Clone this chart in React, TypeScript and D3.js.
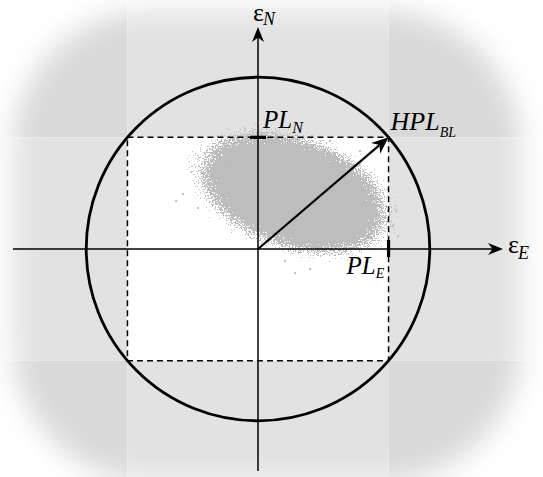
import React from "react";
import * as d3 from "d3";

// Canvas
const W = 543;
const H = 477;

// Protection levels along East and North (error units)
const plEast = 3.73;
const plNorth = 3.19;

// Axis extents (error units)
const axisExtentE = [-7.0, 7.0];
const axisExtentN = [-6.34, 6.34];

// Error cloud: centre, semi-axes and tilt (degrees, counter-clockwise)
const cloudCenter = [1.02, 1.6];
const cloudRadii = [3.35, 1.9];
const cloudTilt = -19;

// Isolated samples around the main cloud
const outlierPoints: [number, number][] = [
  [-2.34, 1.37], [-1.57, 1.89], [-2.14, 1.57], [-1.71, 1.17], [1.06, -0.69],
  [1.49, -0.57], [0.77, -0.34], [3.86, 0.66], [4.0, 0.37], [-0.51, 3.0],
  [2.06, 3.09], [2.91, 2.8], [-0.94, 2.51], [-1.9, 2.2], [3.95, 1.1],
];

const x = d3.scaleLinear().domain([-7, 7]).range([258 - 245, 258 + 245]);
const y = d3.scaleLinear().domain([-7, 7]).range([249 + 245, 249 - 245]);

const hpl = Math.hypot(plEast, plNorth);

// Notched arrowhead pointing along +x, tip at origin
function headPath(len: number, half: number) {
  const p = d3.path();
  p.moveTo(0, 0);
  p.lineTo(-len, -half);
  p.lineTo(-len * 0.7, 0);
  p.lineTo(-len, half);
  p.closePath();
  return p.toString();
}

const serif: React.CSSProperties = {
  fontFamily: '"Liberation Serif", "Times New Roman", Times, serif',
};

// Threshold table: any alpha above ~5% counts as inside the cloud region
const insideTable = ["0"].concat(Array(19).fill("1")).join(" ");

export default function App() {
  const x0 = x(0);
  const y0 = y(0);
  const rx0 = x(-plEast);
  const rx1 = x(plEast);
  const ry0 = y(plNorth);
  const ry1 = y(-plNorth);
  const rPx = x(hpl) - x0;

  const xE0 = x(axisExtentE[0]);
  const xE1 = x(axisExtentE[1]);
  const yN0 = y(axisExtentN[0]);
  const yN1 = y(axisExtentN[1]);

  const hplAngle = (Math.atan2(ry0 - y0, rx1 - x0) * 180) / Math.PI;

  const corner = "#d9d9d9";
  const side = "#e2e2e2";
  const cols = [0, rx0, rx1, W];
  const rows = [0, ry0, ry1, H];
  const tiles: { x: number; y: number; w: number; h: number; c: string }[] = [];
  for (let i = 0; i < 3; i++) {
    for (let j = 0; j < 3; j++) {
      const isCorner = i !== 1 && j !== 1;
      const isCenter = i === 1 && j === 1;
      tiles.push({
        x: cols[i],
        y: rows[j],
        w: cols[i + 1] - cols[i],
        h: rows[j + 1] - rows[j],
        c: isCenter ? "#ffffff" : isCorner ? corner : side,
      });
    }
  }

  return (
    <svg
      width={W}
      height={H}
      style={{ position: "absolute", left: 0, top: 0, background: "#fff" }}
    >
      <defs>
        <filter id="soft" x="-20%" y="-20%" width="140%" height="140%">
          <feGaussianBlur stdDeviation="14" />
        </filter>
        <mask id="fade" maskUnits="userSpaceOnUse" x="0" y="0" width={W} height={H}>
          <rect x={0} y={0} width={W} height={H} fill="#000" />
          <rect x={12} y={10} width={510} height={472} rx={140} fill="#fff" filter="url(#soft)" />
        </mask>
        <radialGradient id="cloudGrad" cx="50%" cy="50%" r="50%">
          <stop offset="0%" stopColor="#000" stopOpacity={1} />
          <stop offset="60%" stopColor="#000" stopOpacity={1} />
          <stop offset="76%" stopColor="#000" stopOpacity={0.62} />
          <stop offset="90%" stopColor="#000" stopOpacity={0.25} />
          <stop offset="100%" stopColor="#000" stopOpacity={0.06} />
        </radialGradient>
        <filter
          id="speckle"
          filterUnits="userSpaceOnUse"
          x="0"
          y="0"
          width={W}
          height={H}
          colorInterpolationFilters="sRGB"
        >
          <feTurbulence type="fractalNoise" baseFrequency="0.65" numOctaves="2" seed="11" result="noise" />
          <feColorMatrix
            in="noise"
            type="matrix"
            values="0 0 0 0 0  0 0 0 0 0  0 0 0 0 0  1 0 0 0 0"
            result="r"
          />
          <feComposite in="SourceAlpha" in2="r" operator="arithmetic" k1="0" k2="1" k3="1.2" k4="-0.6" result="sum" />
          <feComponentTransfer in="sum" result="dots">
            <feFuncA type="discrete" tableValues="0 1" />
          </feComponentTransfer>
          <feComponentTransfer in="SourceAlpha" result="inside">
            <feFuncA type="discrete" tableValues={insideTable} />
          </feComponentTransfer>
          <feComposite in="dots" in2="inside" operator="in" result="mask" />
          <feFlood floodColor="#bdbdbd" result="fill" />
          <feComposite in="fill" in2="mask" operator="in" />
        </filter>
      </defs>

      {/* shaded background regions */}
      <g mask="url(#fade)">
        {tiles.map((t, i) => (
          <rect key={i} x={t.x} y={t.y} width={t.w} height={t.h} fill={t.c} />
        ))}
      </g>
      <rect x={rx0} y={ry0} width={rx1 - rx0} height={ry1 - ry0} fill="#fff" />

      {/* error cloud */}
      <g filter="url(#speckle)">
        <ellipse
          cx={0}
          cy={0}
          rx={x(cloudRadii[0]) - x(0)}
          ry={x(cloudRadii[1]) - x(0)}
          fill="url(#cloudGrad)"
          transform={`translate(${x(cloudCenter[0])},${y(cloudCenter[1])}) rotate(${-cloudTilt})`}
        />
      </g>
      {outlierPoints.map((p, i) => (
        <rect key={i} x={x(p[0]) - 1} y={y(p[1]) - 1} width={2} height={2} fill="#bdbdbd" />
      ))}

      {/* protection level box */}
      <rect
        x={rx0}
        y={ry0}
        width={rx1 - rx0}
        height={ry1 - ry0}
        fill="none"
        stroke="#000"
        strokeWidth={1.5}
        strokeDasharray="6 4"
      />

      {/* horizontal protection level circle */}
      <circle cx={x0} cy={y0} r={rPx} fill="none" stroke="#000" strokeWidth={2.8} />

      {/* axes */}
      <line x1={xE0} y1={y0} x2={xE1 - 8} y2={y0} stroke="#000" strokeWidth={1.5} />
      <path d={headPath(15, 6)} transform={`translate(${xE1},${y0})`} fill="#000" />
      <line x1={x0} y1={yN0} x2={x0} y2={yN1 + 8} stroke="#000" strokeWidth={1.5} />
      <path d={headPath(15, 6)} transform={`translate(${x0},${yN1}) rotate(-90)`} fill="#000" />

      {/* PL markers */}
      <line x1={x0 - 8} y1={ry0} x2={x0 + 8} y2={ry0} stroke="#000" strokeWidth={3.2} />
      <line x1={rx1} y1={y0 - 9} x2={rx1} y2={y0 + 8} stroke="#000" strokeWidth={3.2} />

      {/* HPL vector */}
      <line
        x1={x0}
        y1={y0}
        x2={x0 + (rx1 - x0) * 0.93}
        y2={y0 + (ry0 - y0) * 0.93}
        stroke="#000"
        strokeWidth={2.2}
      />
      <path d={headPath(17, 7)} transform={`translate(${rx1},${ry0}) rotate(${hplAngle})`} fill="#000" />

      {/* labels */}
      <text x={x0 - 5} y={21} style={serif} fontSize={26} fill="#000">
        ε
        <tspan fontStyle="italic" fontSize={18} dy={4} dx={-1}>N</tspan>
      </text>
      <text x={xE1 + 5} y={253} style={serif} fontSize={26} fill="#000">
        ε
        <tspan fontStyle="italic" fontSize={18} dy={6} dx={-1}>E</tspan>
      </text>
      <text x={x0 + 5} y={128} style={serif} fontSize={25} fontStyle="italic" fill="#000">
        PL
        <tspan fontSize={16} dy={5}>N</tspan>
      </text>
      <text x={rx1 + 2} y={130} style={serif} fontSize={26} fontStyle="italic" fill="#000">
        HPL
        <tspan fontSize={14} dy={7}>BL</tspan>
      </text>
      <text x={rx1 - 42} y={274} style={serif} fontSize={25} fontStyle="italic" fill="#000">
        PL
        <tspan fontSize={14} dy={4}>E</tspan>
      </text>
    </svg>
  );
}
